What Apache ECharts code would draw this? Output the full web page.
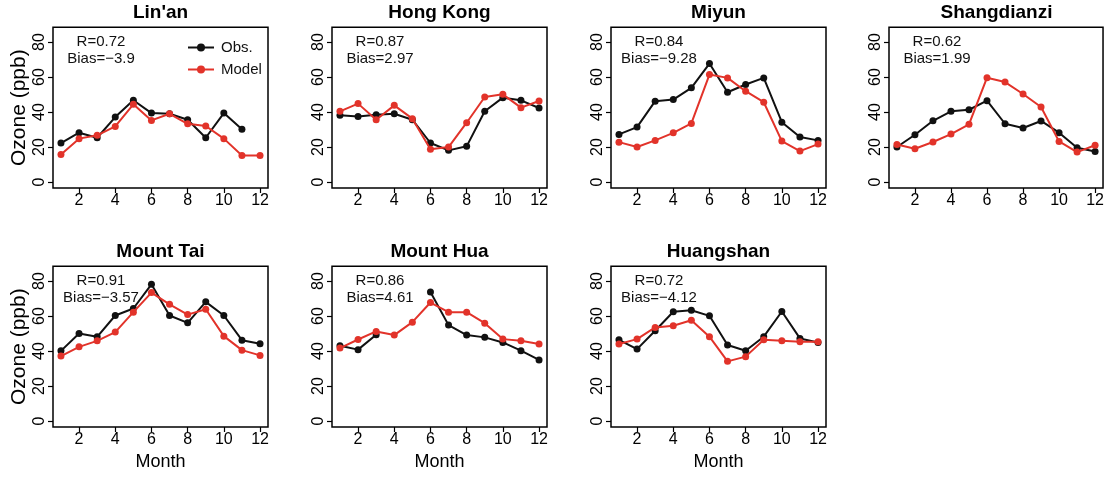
<!DOCTYPE html>
<html>
<head>
<meta charset="utf-8">
<script src="https://cdn.jsdelivr.net/npm/echarts@6/dist/echarts.min.js"></script>
<style>
html,body{margin:0;padding:0;background:#fff;}
#chart{width:1107px;height:478px;}
</style>
</head>
<body>
<div id="chart"></div>
<script>
// ---- data ----
const months = [1,2,3,4,5,6,7,8,9,10,11,12];
const stations = ["Lin'an","Hong Kong","Miyun","Shangdianzi","Mount Tai","Mount Hua","Huangshan"];
const xTicks = [2,4,6,8,10,12];
const yTicks = [0,20,40,60,80];
const rValues = ["0.72","0.87","0.84","0.62","0.91","0.86","0.72"];
const biasValues = ["\u22123.9","2.97","\u22129.28","1.99","\u22123.57","4.61","\u22124.12"];

const obsLinan   = [22.3,28.2,25.3,37.1,46.7,39.4,39.0,35.6,25.3,39.4,30.1,null];
const modelLinan = [15.8,24.8,26.7,31.8,44.4,35.2,39.0,33.3,32.0,24.8,15.2,15.2];
const obsHongKong   = [38.1,37.5,38.5,39.0,35.6,22.3,18.1,20.4,40.4,48.2,46.7,42.3];
const modelHongKong = [40.4,44.8,35.6,43.8,36.2,18.7,20.0,33.9,48.6,50.1,42.5,46.3];
const obsMiyun   = [27.2,31.4,46.2,47.1,53.8,67.7,51.3,55.7,59.5,34.2,25.7,23.8];
const modelMiyun = [22.8,20.0,23.8,28.1,33.5,61.4,59.5,51.9,45.6,23.4,17.7,21.7];
const obsShangdianzi   = [20.0,27.0,35.0,40.4,41.3,46.5,33.3,30.9,34.9,28.2,19.6,17.5];
const modelShangdianzi = [21.5,19.0,22.9,27.4,33.0,59.6,57.1,50.3,42.9,23.2,17.1,21.0];
const obsMountTai   = [40.1,50.0,48.1,60.3,64.3,78.1,60.3,56.1,68.1,60.3,46.2,44.1];
const modelMountTai = [37.1,42.4,45.8,50.8,62.2,73.4,66.7,60.8,63.9,48.5,40.5,37.5];
const obsMountHua   = [43.0,40.8,49.3,null,null,73.7,54.8,49.1,47.8,44.9,40.2,34.9];
const modelMountHua = [41.7,46.6,51.2,49.1,56.5,67.7,62.2,62.2,55.9,46.8,45.9,44.0];
const obsHuangshan   = [46.4,41.1,51.6,62.4,63.3,60.1,43.4,40.2,48.2,62.6,47.2,44.9];
const modelHuangshan = [44.0,46.8,53.5,54.4,57.6,48.2,34.1,36.8,46.4,45.9,45.3,45.3];

const obsAll = [obsLinan,obsHongKong,obsMiyun,obsShangdianzi,obsMountTai,obsMountHua,obsHuangshan];
const modelAll = [modelLinan,modelHongKong,modelMiyun,modelShangdianzi,modelMountTai,modelMountHua,modelHuangshan];

// ---- layout ----
const FONT = "'Liberation Sans', Arial, Helvetica, sans-serif";
const colLefts = [53, 332, 611, 889];
const rowTops = [27.3, 266.3];
const boxW = 215, boxH = 160.7;
const OBS_COLOR = '#111111', MODEL_COLOR = '#e2332a';

const grids = [], xAxes = [], yAxes = [], series = [], graphics = [];
stations.forEach((name, i) => {
  const row = i < 4 ? 0 : 1;
  const col = i < 4 ? i : i - 4;
  const left = colLefts[col], top = rowTops[row];
  grids.push({left: left, top: top, width: boxW, height: boxH, show: true,
    borderColor: '#000', borderWidth: 1.5, backgroundColor: 'transparent'});
  xAxes.push({type: 'value', gridIndex: i, min: 0.56, max: 12.44,
    splitLine: {show: false},
    axisLine: {show: false, onZero: false},
    axisTick: {show: true, customValues: xTicks, length: 5, lineStyle: {color: '#000', width: 1.2}},
    axisLabel: {customValues: xTicks, color: '#000', fontSize: 16, margin: 5, fontFamily: FONT}});
  yAxes.push({type: 'value', gridIndex: i, min: -3.4, max: 88.4,
    splitLine: {show: false},
    axisLine: {show: false, onZero: false},
    axisTick: {show: true, customValues: yTicks, length: 5, lineStyle: {color: '#000', width: 1.2}},
    axisLabel: {customValues: yTicks, color: '#000', fontSize: 16, margin: 5, rotate: 90, fontFamily: FONT}});
  const toData = arr => months.map((m, k) => [m, arr[k] == null ? '-' : arr[k]]);
  series.push({name: 'Obs.', type: 'line', xAxisIndex: i, yAxisIndex: i,
    data: toData(obsAll[i]), symbol: 'circle', symbolSize: 7, connectNulls: false,
    lineStyle: {color: OBS_COLOR, width: 2}, itemStyle: {color: OBS_COLOR}, animation: false, z: 2});
  series.push({name: 'Model', type: 'line', xAxisIndex: i, yAxisIndex: i,
    data: toData(modelAll[i]), symbol: 'circle', symbolSize: 7,
    lineStyle: {color: MODEL_COLOR, width: 2}, itemStyle: {color: MODEL_COLOR}, animation: false, z: 3});
  // title
  graphics.push({type: 'text', x: left + boxW / 2, y: row === 0 ? 13 : 252,
    style: {text: name, fontSize: 19, fontWeight: 'bold', fontFamily: FONT, fill: '#000',
      textAlign: 'center', textVerticalAlign: 'middle'}});
  // stats annotation
  graphics.push({type: 'text', x: left + 48, y: top + 15,
    style: {text: 'R=' + rValues[i], fontSize: 15, fontFamily: FONT, fill: '#111',
      textAlign: 'center', textVerticalAlign: 'middle'}});
  graphics.push({type: 'text', x: left + 48, y: top + 32,
    style: {text: 'Bias=' + biasValues[i], fontSize: 15, fontFamily: FONT, fill: '#111',
      textAlign: 'center', textVerticalAlign: 'middle'}});
  if (col === 0) {
    graphics.push({type: 'text', x: 19, y: top + boxH / 2, rotation: Math.PI / 2,
      style: {text: 'Ozone (ppb)', fontSize: 21, fontFamily: FONT, fill: '#000',
        textAlign: 'center', textVerticalAlign: 'middle'}});
  }
  if (row === 1) {
    graphics.push({type: 'text', x: left + boxW / 2, y: 462,
      style: {text: 'Month', fontSize: 18, fontFamily: FONT, fill: '#000',
        textAlign: 'center', textVerticalAlign: 'middle'}});
  }
});

const chart = echarts.init(document.getElementById('chart'), null, {renderer: 'canvas'});
chart.setOption({
  backgroundColor: '#fff',
  animation: false,
  grid: grids,
  xAxis: xAxes,
  yAxis: yAxes,
  series: series,
  legend: {data: ['Obs.', 'Model'], left: 182, top: 35, orient: 'vertical',
    itemWidth: 26, itemHeight: 10, itemGap: 7, selectedMode: false,
    textStyle: {fontSize: 15, fontFamily: FONT, color: '#111', padding: [0, 0, 0, 2]}},
  graphic: graphics
});
</script>
</body>
</html>
